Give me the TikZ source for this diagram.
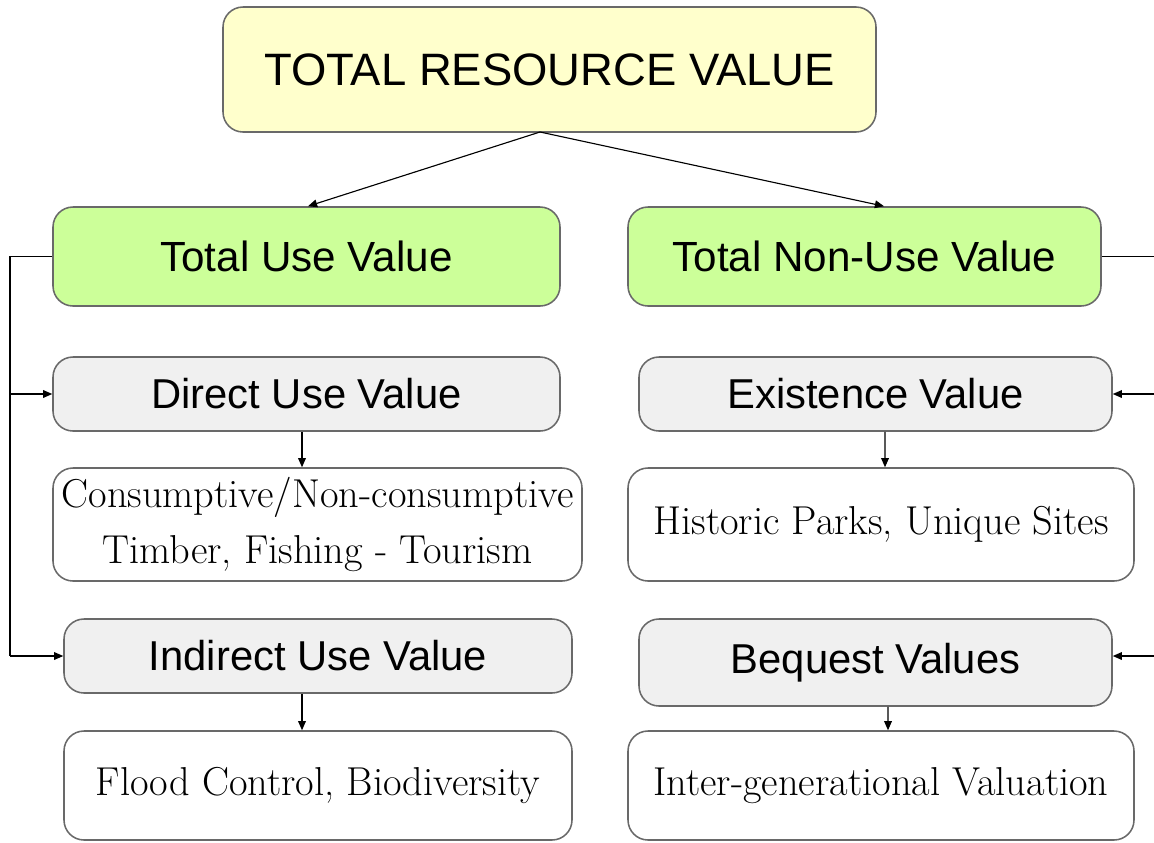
\documentclass[tikz,border=0pt]{standalone}
\usepackage{fontspec}
\newfontfamily\hsans{Liberation Sans}
\usetikzlibrary{arrows.meta}
\definecolor{boxyellow}{RGB}{255,255,204}
\definecolor{boxgreen}{RGB}{204,255,153}
\definecolor{boxgrey}{RGB}{240,240,240}
\definecolor{edgegrey}{RGB}{105,105,105}
\tikzset{
  box/.style args={#1/#2}{draw=edgegrey, line width=1.1pt, rounded corners=0.5cm,
    minimum width={#1*0.025cm}, minimum height={#2*0.025cm}, inner sep=0pt, align=center},
  topbox/.style={fill=boxyellow, font=\hsans\fontsize{32.3}{38}\selectfont},
  mainbox/.style={fill=boxgreen, font=\hsans\fontsize{30}{36}\selectfont},
  subbox/.style={fill=boxgrey, font=\hsans\fontsize{29.7}{36}\selectfont},
  textbox/.style={fill=white, font=\fontsize{28.7}{39.5}\selectfont},
  conn/.style={draw=black, line width=0.8pt},
  arr/.style={conn, -{Triangle[length=6.5pt,width=5.5pt]}}
}
\begin{document}
\begin{tikzpicture}[x=0.025cm, y=-0.025cm]
\useasboundingbox (0,0) rectangle (1154,842);
\clip (0,0) rectangle (1154,842);
\node[box=653/125, topbox] (top) at (549.5,69.5) {TOTAL RESOURCE VALUE};
\node[box=507/99, mainbox] (tuv) at (306.5,256.5) {Total Use Value};
\node[box=473/99, mainbox] (tnuv) at (864.5,256.5) {Total Non-Use Value};
\node[box=507/74, subbox] (duv) at (306.5,394) {Direct Use Value};
\node[box=473/74, subbox] (ev) at (875.5,394) {Existence Value};
\node[box=529/113, textbox] (cons) at (317.5,524.5) {Consumptive/Non-consumptive\\Timber, Fishing - Tourism};
\node[box=506/113, textbox] (hist) at (881,524.5) {Historic Parks, Unique Sites};
\node[box=508/74, subbox] (iuv) at (318,656) {Indirect Use Value};
\node[box=473/87, subbox] (beq) at (875.5,662.5) {Bequest Values};
\node[box=508/109, textbox] (flood) at (318,785.5) {Flood Control, Biodiversity};
\node[box=506/109, textbox] (inter) at (881,785.5) {Inter-generational Valuation};
% top connectors
\coordinate (fork) at (540,132);
\draw[arr] (fork) -- ([xshift={1.5*0.025cm}]tuv.north);
\draw[arr] (fork) -- ([xshift={19.5*0.025cm}]tnuv.north);
% left bus
\coordinate (lbus) at (10,256.5);
\coordinate (rbus) at (1154,256.5);
\draw[conn] (tuv.west) -- (lbus) -- (lbus |- iuv.west);
\draw[arr] (lbus |- iuv.west) -- (iuv.west);
\draw[arr] (lbus |- duv.west) -- (duv.west);
% right bus
\draw[conn] (tnuv.east) -- (rbus);
\draw[arr] (rbus |- ev.east) -- (ev.east);
\draw[arr] (rbus |- iuv.west) -- (beq.east |- iuv.west);
% short vertical arrows
\draw[arr] ([xshift={-4.5*0.025cm}]duv.south) -- ([xshift={-15.5*0.025cm}]cons.north);
\draw[arr] ([xshift={9.5*0.025cm}]ev.south) -- ([xshift={4*0.025cm}]hist.north);
\draw[arr] ([xshift={-16*0.025cm}]iuv.south) -- ([xshift={-16*0.025cm}]flood.north);
\draw[arr] ([xshift={12.5*0.025cm}]beq.south) -- ([xshift={7*0.025cm}]inter.north);
\end{tikzpicture}
\end{document}
